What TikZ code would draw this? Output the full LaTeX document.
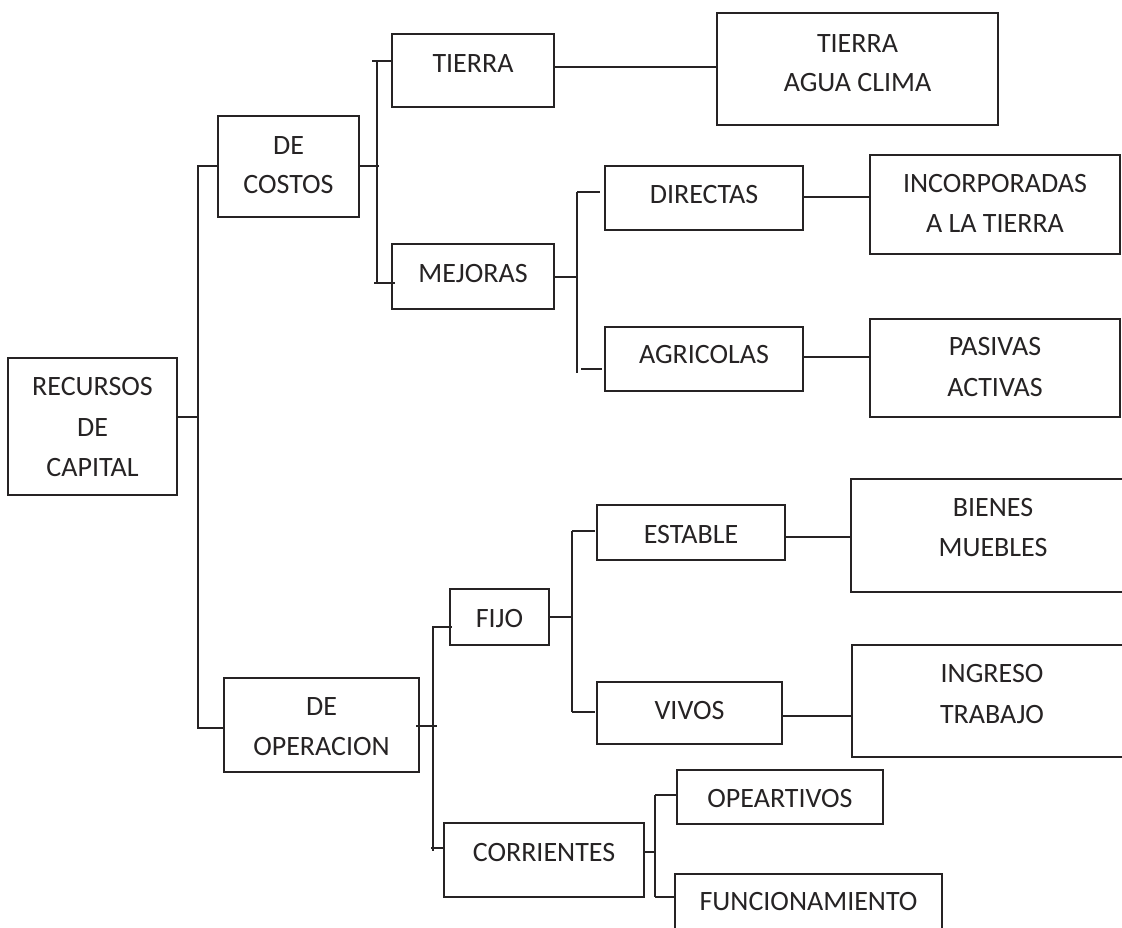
\documentclass[tikz,border=0pt]{standalone}
\usepackage{fontspec}
\setmainfont{Carlito}
\usetikzlibrary{calc}
\definecolor{ink}{HTML}{262324}
\tikzset{
  box/.style={draw=ink, line width=2pt, inner sep=0pt, outer sep=0pt, fill=none},
  txt/.style={text=ink, inner sep=0pt, outer sep=0pt, anchor=base, font=\fontsize{28}{40}\selectfont},
  ln/.style={draw=ink, line width=2pt}
}
\newcommand\mybox[5]{\node[box, minimum width={#4-#2}, minimum height={#5-#3}] (#1) at ({(#2+#4)/2},{(#3+#5)/2}) {};}
\newcommand\mytext[4]{\node[txt] (#1) at (#2,#3) {#4};}
\begin{document}
\begin{tikzpicture}[x=1pt,y=-1pt]
\useasboundingbox (0,0) rectangle (1122,927);
\fill[white] (0,0) rectangle (1122,927);
\clip (0,0) rectangle (1122,927);
% boxes
\mybox{rec}{8}{358}{177}{495}
\mybox{cos}{218}{116}{359}{217}
\mybox{tie}{392}{34}{554}{107}
\mybox{tac}{717}{13}{998}{125}
\mybox{mej}{392}{244}{554}{309}
\mybox{dir}{605}{166}{803}{230}
\mybox{inc}{870}{155}{1120}{254}
\mybox{agr}{605}{327}{803}{391}
\mybox{pas}{870}{319}{1120}{417}
\mybox{ope}{224}{678}{419}{772}
\mybox{fij}{450}{589}{549}{645}
\mybox{est}{597}{505}{785}{560}
\mybox{bie}{851}{479}{1135}{592}
\mybox{viv}{597}{682}{782}{744}
\mybox{ing}{852}{645}{1135}{757}
\mybox{cor}{444}{823}{644}{897}
\mybox{opa}{677}{770}{883}{824}
\mybox{fun}{675}{874}{942}{945}
% texts
\mytext{rec1}{92.5}{395}{RECURSOS}
\mytext{rec2}{92.5}{436}{DE}
\mytext{rec3}{92.5}{476}{CAPITAL}
\mytext{cos1}{288.5}{154}{DE}
\mytext{cos2}{288.5}{193}{COSTOS}
\mytext{tie1}{473}{72}{TIERRA}
\mytext{tac1}{857.5}{52}{TIERRA}
\mytext{tac2}{857.5}{91}{AGUA CLIMA}
\mytext{mej1}{473}{282}{MEJORAS}
\mytext{dir1}{704}{203}{DIRECTAS}
\mytext{inc1}{995}{192}{INCORPORADAS}
\mytext{inc2}{995}{232}{A LA TIERRA}
\mytext{agr1}{704}{363}{AGRICOLAS}
\mytext{pas1}{995}{355}{PASIVAS}
\mytext{pas2}{995}{396}{ACTIVAS}
\mytext{ope1}{321.5}{715}{DE}
\mytext{ope2}{321.5}{755}{OPERACION}
\mytext{fij1}{499.5}{627}{FIJO}
\mytext{est1}{691}{543}{ESTABLE}
\mytext{bie1}{993}{516}{BIENES}
\mytext{bie2}{993}{556}{MUEBLES}
\mytext{viv1}{689.5}{719}{VIVOS}
\mytext{ing1}{992}{682}{INGRESO}
\mytext{ing2}{992}{723}{TRABAJO}
\mytext{cor1}{544}{861}{CORRIENTES}
\mytext{opa1}{780}{807}{OPEARTIVOS}
\mytext{fun1}{808.5}{910}{FUNCIONAMIENTO}
% junction coordinates
\coordinate (jA) at (198,417);
\coordinate (A1) at (198,166);
\coordinate (A2) at (198,728);
\coordinate (B0) at (379,166);
\coordinate (B1) at (377,61);
\coordinate (B2) at (377,283);
\coordinate (T0) at (640,67);
\coordinate (C0) at (577,277);
\coordinate (C1) at (577,192);
\coordinate (C2) at (577,373);
\coordinate (C3) at (581,369);
\coordinate (D0) at (830,197);
\coordinate (G0) at (830,357);
\coordinate (E0) at (433,726);
\coordinate (E1) at (433,627);
\coordinate (E2) at (433,851);
\coordinate (E3) at (433,848);
\coordinate (F0) at (572,617);
\coordinate (F1) at (572,531);
\coordinate (F2) at (572,712);
\coordinate (H0) at (820,537);
\coordinate (K0) at (820,716);
\coordinate (P0) at (655,852);
\coordinate (P1) at (655,795);
\coordinate (P2) at (655,897);
% connectors
\draw[ln] (rec.east|-jA) -- (jA);
\draw[ln] (cos.west|-A1) -- (A1) -- (A2) -- (ope.west|-A2);
\draw[ln] (cos.east|-B0) -- (B0);
\draw[ln] (B1) -- (B2);
\draw[ln] ($(B1)+(-5,0)$) -- (tie.west|-B1);
\draw[ln] ($(B2)+(-3,0)$) -- ($(mej.west|-B2)+(3,0)$);
\draw[ln] (tie.east|-T0) -- (tac.west|-T0);
\draw[ln] (mej.east|-C0) -- (C0);
\draw[ln] (C1) -- (C2);
\draw[ln] (C1) -- ($(dir.west|-C1)+(-5,0)$);
\draw[ln] (C3) -- ($(agr.west|-C3)+(-3,0)$);
\draw[ln] (dir.east|-D0) -- (inc.west|-D0);
\draw[ln] (agr.east|-G0) -- (pas.west|-G0);
\draw[ln] ($(ope.east|-E0)+(-3,0)$) -- ($(E0)+(4,0)$);
\draw[ln] (E1) -- (E2);
\draw[ln] ($(E1)+(-1,0)$) -- ($(fij.west|-E1)+(2,0)$);
\draw[ln] ($(E3)+(-2,0)$) -- (cor.west|-E3);
\draw[ln] (fij.east|-F0) -- (F0);
\draw[ln] (F1) -- (F2);
\draw[ln] (F1) -- ($(est.west|-F1)+(-2,0)$);
\draw[ln] (F2) -- ($(viv.west|-F2)+(-2,0)$);
\draw[ln] (est.east|-H0) -- (bie.west|-H0);
\draw[ln] (viv.east|-K0) -- (ing.west|-K0);
\draw[ln] (cor.east|-P0) -- (P0);
\draw[ln] (P1) -- (P2);
\draw[ln] (P1) -- (opa.west|-P1);
\draw[ln] (P2) -- (fun.west|-P2);
\end{tikzpicture}
\end{document}
